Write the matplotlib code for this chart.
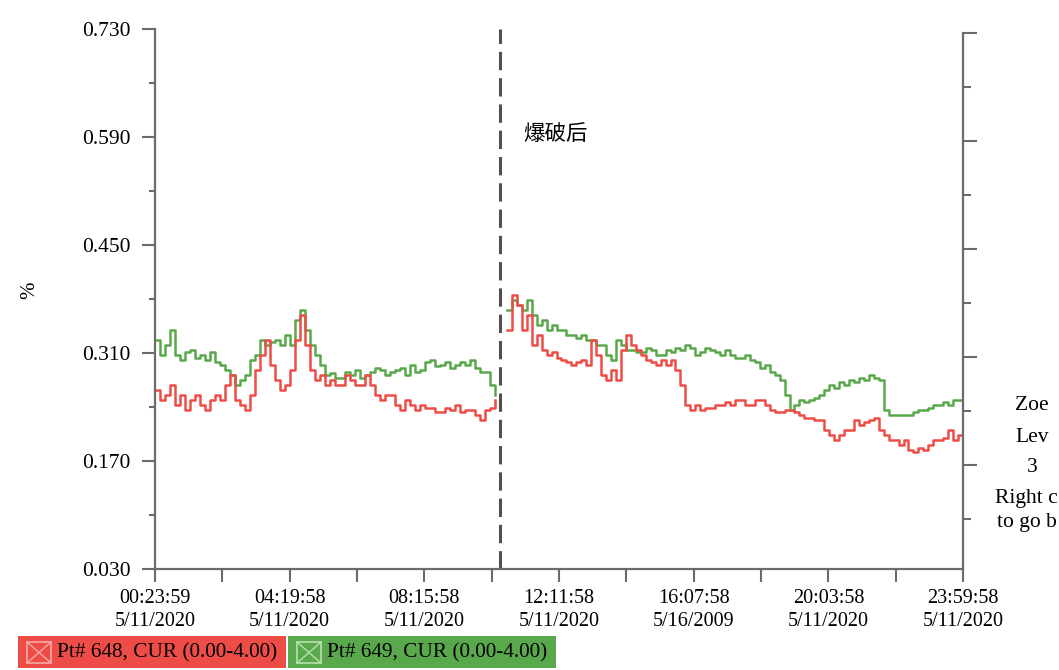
import matplotlib
matplotlib.use("Agg")

import numpy as np
import matplotlib.pyplot as plt
from matplotlib.patches import Rectangle
from matplotlib.lines import Line2D

plt.rcParams['font.family'] = ['Liberation Serif', 'DejaVu Serif']

# time in hours (00:23:59 .. 23:59:58)
t_start = 0.4
t_end = 24.0
gap_start = 10.33
gap_end = 10.68
blast_time = 10.48

tick_labels = ["00:23:59\n5/11/2020", "04:19:58\n5/11/2020", "08:15:58\n5/11/2020",
               "12:11:58\n5/11/2020", "16:07:58\n5/16/2009", "20:03:58\n5/11/2020",
               "23:59:58\n5/11/2020"]

green_before = [0.327, 0.307, 0.320, 0.340, 0.307, 0.301, 0.311, 0.314, 0.304, 0.307,
                0.301, 0.311, 0.298, 0.294, 0.288, 0.281, 0.269, 0.275, 0.281, 0.301,
                0.307, 0.327, 0.320, 0.324, 0.327, 0.320, 0.333, 0.320, 0.353, 0.366,
                0.340, 0.320, 0.307, 0.294, 0.281, 0.284, 0.278, 0.278, 0.285, 0.281,
                0.288, 0.278, 0.281, 0.285, 0.291, 0.288, 0.281, 0.285, 0.288, 0.291,
                0.281, 0.294, 0.285, 0.288, 0.298, 0.301, 0.293, 0.294, 0.298, 0.291,
                0.294, 0.298, 0.294, 0.301, 0.291, 0.285, 0.285, 0.269, 0.256]

red_before = [0.262, 0.249, 0.256, 0.269, 0.243, 0.256, 0.236, 0.249, 0.256, 0.243,
              0.236, 0.249, 0.256, 0.249, 0.269, 0.281, 0.249, 0.243, 0.236, 0.256,
              0.288, 0.307, 0.327, 0.294, 0.275, 0.262, 0.269, 0.288, 0.327, 0.359,
              0.320, 0.288, 0.275, 0.281, 0.269, 0.275, 0.269, 0.269, 0.281, 0.275,
              0.269, 0.269, 0.281, 0.269, 0.256, 0.249, 0.256, 0.256, 0.243, 0.236,
              0.249, 0.243, 0.236, 0.243, 0.239, 0.239, 0.234, 0.234, 0.239, 0.236,
              0.243, 0.234, 0.236, 0.236, 0.230, 0.223, 0.236, 0.239, 0.249]

green_after = [0.366, 0.379, 0.372, 0.366, 0.379, 0.359, 0.346, 0.353, 0.340, 0.346,
               0.340, 0.340, 0.333, 0.333, 0.330, 0.333, 0.327, 0.327, 0.320, 0.320,
               0.307, 0.301, 0.327, 0.320, 0.314, 0.314, 0.311, 0.311, 0.317, 0.314,
               0.307, 0.307, 0.314, 0.311, 0.317, 0.314, 0.320, 0.317, 0.307, 0.311,
               0.317, 0.314, 0.311, 0.307, 0.314, 0.307, 0.304, 0.304, 0.307, 0.301,
               0.298, 0.291, 0.294, 0.285, 0.281, 0.275, 0.256, 0.236, 0.243, 0.249,
               0.246, 0.249, 0.252, 0.256, 0.262, 0.269, 0.265, 0.272, 0.269, 0.275,
               0.272, 0.278, 0.275, 0.281, 0.278, 0.275, 0.236, 0.230, 0.230, 0.230,
               0.230, 0.230, 0.234, 0.236, 0.236, 0.239, 0.243, 0.243, 0.246, 0.243,
               0.249, 0.249, 0.262]

red_after = [0.340, 0.385, 0.372, 0.340, 0.359, 0.320, 0.333, 0.314, 0.307, 0.311,
             0.304, 0.301, 0.298, 0.294, 0.298, 0.301, 0.294, 0.327, 0.307, 0.281,
             0.275, 0.288, 0.275, 0.314, 0.333, 0.320, 0.314, 0.307, 0.301, 0.298,
             0.294, 0.301, 0.294, 0.301, 0.288, 0.269, 0.243, 0.236, 0.243, 0.236,
             0.239, 0.239, 0.243, 0.243, 0.246, 0.243, 0.249, 0.249, 0.243, 0.243,
             0.249, 0.249, 0.243, 0.236, 0.234, 0.234, 0.236, 0.236, 0.234, 0.230,
             0.226, 0.226, 0.223, 0.223, 0.210, 0.204, 0.197, 0.204, 0.210, 0.210,
             0.223, 0.217, 0.220, 0.223, 0.226, 0.210, 0.204, 0.197, 0.197, 0.191,
             0.197, 0.184, 0.182, 0.187, 0.184, 0.191, 0.197, 0.197, 0.200, 0.210,
             0.197, 0.204, 0.204]

legend_labels = ["Pt# 648, CUR (0.00-4.00)", "Pt# 649, CUR (0.00-4.00)"]
red = "#ee4d47"
green = "#5aa84c"
axis_gray = "#6b6b6b"

fig = plt.figure(figsize=(10.59, 6.70), dpi=100)
ax = fig.add_axes([155 / 1059, 1 - 569 / 670, 808 / 1059, 540 / 670])

tb = np.linspace(t_start, gap_start, len(green_before))
ax.step(tb, green_before, where="post", color=green, lw=1.8)
tb = np.linspace(t_start, gap_start, len(red_before))
ax.step(tb, red_before, where="post", color=red, lw=1.8)
ta = np.linspace(gap_end, t_end, len(green_after))
ax.step(ta, green_after, where="post", color=green, lw=1.8)
ta = np.linspace(gap_end, t_end, len(red_after))
ax.step(ta, red_after, where="post", color=red, lw=1.8)

ax.axvline(blast_time, color="#505050", lw=2.2, dashes=(6, 2.6))
ax.text(11.15, 0.594, "爆破后", fontsize=15.5, va="center", ha="left",
        family=["Noto Sans CJK SC", "DejaVu Sans"])

ax.set_xlim(t_start, t_end)
ax.set_ylim(0.030, 0.730)

major_x = np.linspace(t_start, t_end, 7)
ax.set_xticks(major_x)
ax.set_xticklabels(tick_labels, fontsize=14.5, linespacing=1.3)
ax.set_xticks((major_x[:-1] + major_x[1:]) / 2, minor=True)

yt = [0.030, 0.170, 0.310, 0.450, 0.590, 0.730]
ax.set_yticks(yt)
ax.set_yticklabels(["%.3f" % v for v in yt], fontsize=15.5)
ax.set_yticks([0.100, 0.240, 0.380, 0.520, 0.660], minor=True)

ax.tick_params(axis="y", which="major", length=9.5, width=1.5, color=axis_gray, pad=8)
ax.tick_params(axis="y", which="minor", length=4.5, width=1.5, color=axis_gray)
ax.tick_params(axis="x", which="both", length=9.5, width=1.5, color=axis_gray, pad=5)

for s in ["top", "right"]:
    ax.spines[s].set_visible(False)
for s in ["left", "bottom"]:
    ax.spines[s].set_color(axis_gray)
    ax.spines[s].set_linewidth(1.6)

fig.text(30 / 1059, 1 - 290 / 670, "%", fontsize=15, rotation=90, ha="center", va="center")

ax2 = ax.twinx()
ax2.set_ylim(0.030, 0.730)
ax2.set_yticks([0.165, 0.305, 0.445, 0.585, 0.725])
ax2.set_yticks([0.095, 0.235, 0.375, 0.515, 0.655], minor=True)
ax2.set_yticklabels([])
ax2.tick_params(axis="y", which="major", length=10, width=1.5, color=axis_gray)
ax2.tick_params(axis="y", which="minor", length=6, width=1.5, color=axis_gray)
for s in ["top", "left", "bottom"]:
    ax2.spines[s].set_visible(False)
ax2.spines["right"].set_color(axis_gray)
ax2.spines["right"].set_linewidth(1.6)
ax2.spines["right"].set_bounds(0.030, 0.725)

# right side panel text (cut off at image edge in the original)
for txt, yy in [("Zoe", 405), ("Lev", 437), ("3", 467)]:
    fig.text(1032 / 1059, 1 - yy / 670, txt, fontsize=15.5, ha="center", va="center")
fig.text(995 / 1059, 1 - 498 / 670, "Right c", fontsize=15.5, ha="left", va="center")
fig.text(997 / 1059, 1 - 522 / 670, "to go b", fontsize=15.5, ha="left", va="center")

# legend boxes at bottom
boxes = [(18, 286, red, "#f7a9a4"), (288, 556, green, "#b9e0b0")]
for (x0, x1, fc, ic), lab in zip(boxes, legend_labels):
    fig.patches.append(Rectangle((x0 / 1059, 1 - 668 / 670), (x1 - x0) / 1059, 32 / 670,
                                 transform=fig.transFigure, facecolor=fc, edgecolor="none"))
    ix0, ix1, iy0, iy1 = x0 + 9, x0 + 33, 642, 663
    fig.patches.append(Rectangle((ix0 / 1059, 1 - iy1 / 670), (ix1 - ix0) / 1059,
                                 (iy1 - iy0) / 670, transform=fig.transFigure,
                                 facecolor="none", edgecolor=ic, lw=1.2))
    fig.lines.append(Line2D([ix0 / 1059, ix1 / 1059], [1 - iy0 / 670, 1 - iy1 / 670],
                            transform=fig.transFigure, color=ic, lw=1.0))
    fig.lines.append(Line2D([ix0 / 1059, ix1 / 1059], [1 - iy1 / 670, 1 - iy0 / 670],
                            transform=fig.transFigure, color=ic, lw=1.0))
    fig.text((x0 + 39) / 1059, 1 - 653 / 670, lab, fontsize=15.3, ha="left", va="center")

plt.savefig("out.png", dpi=100)
plt.close()
